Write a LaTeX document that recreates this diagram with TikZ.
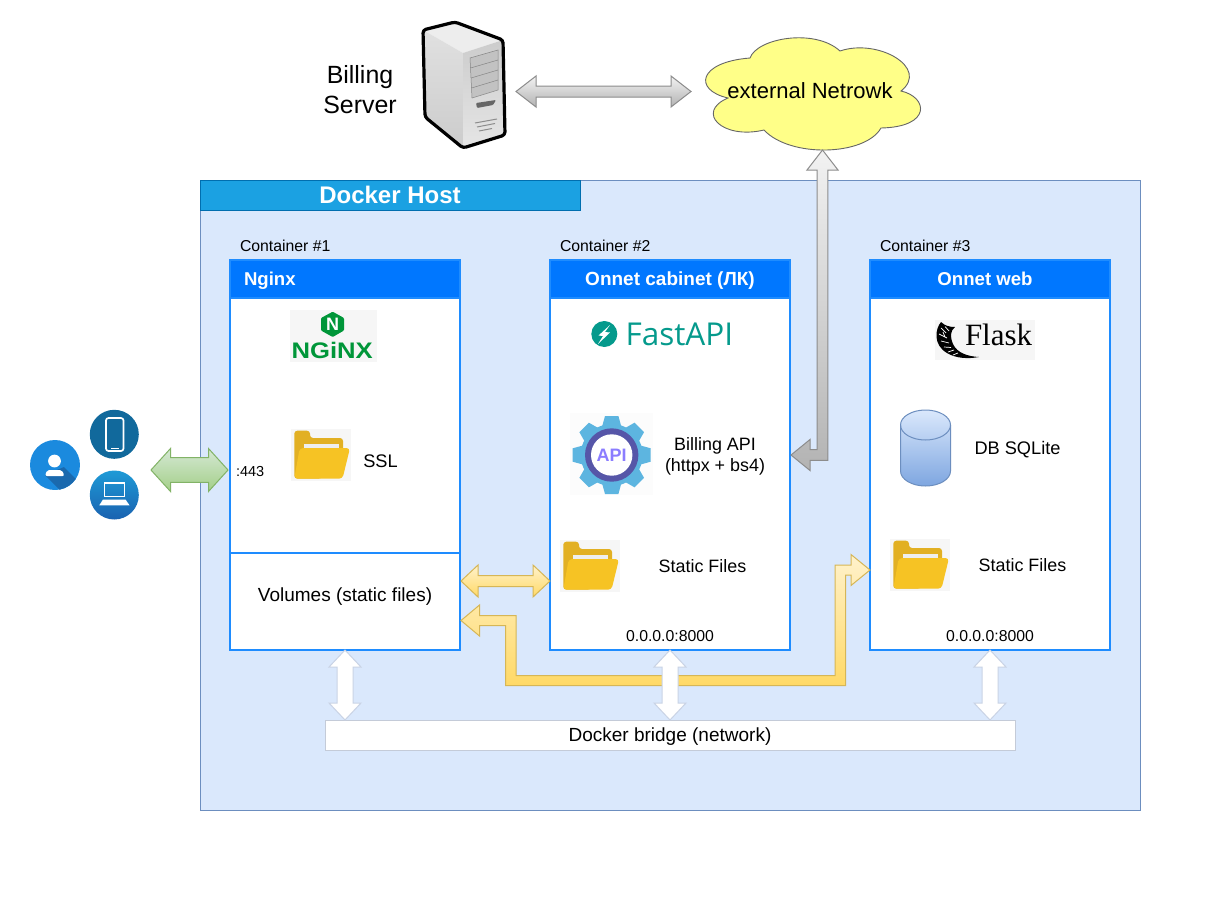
\documentclass[tikz,border=0pt]{standalone}
\usepackage{fontspec}
\usepackage{graphicx}
\setmainfont{Liberation Sans}
\newfontfamily\logofont{Open Sans}
\newfontfamily\flaskfont{Liberation Serif}
\usetikzlibrary{calc}
\definecolor{hostfill}{HTML}{DAE8FC}
\definecolor{hostline}{HTML}{6C8EBF}
\definecolor{hosthead}{HTML}{1BA1E2}
\definecolor{hostheadline}{HTML}{006EAF}
\definecolor{contline}{HTML}{1E8CFF}
\definecolor{conthead}{HTML}{0077FF}
\definecolor{bridgeline}{HTML}{C4CBD8}
\definecolor{whiteline}{HTML}{C9D3E5}
\definecolor{folderback}{HTML}{E2B023}
\definecolor{folderfront}{HTML}{F6C324}
\definecolor{folderpaper}{HTML}{EEEEEE}
\definecolor{logobg}{HTML}{F6F6F6}
\definecolor{nginxgreen}{HTML}{009639}
\definecolor{fastteal}{HTML}{059A8C}
\definecolor{gearblue}{HTML}{5DB5E0}
\definecolor{gearring}{HTML}{5656A8}
\definecolor{apitext}{HTML}{8B7DFF}
\definecolor{greentop}{HTML}{D5E8D4}
\definecolor{greenbot}{HTML}{A3CF88}
\definecolor{greenline}{HTML}{82B366}
\definecolor{yeltop}{HTML}{FFF2CC}
\definecolor{yelbot}{HTML}{FFD966}
\definecolor{yelline}{HTML}{D6B656}
\definecolor{cloudfill}{HTML}{FFFF88}
\definecolor{graytop}{HTML}{F2F2F2}
\definecolor{graybot}{HTML}{B3B3B3}
\definecolor{grayline}{HTML}{8C8C8C}
\definecolor{dbbot}{HTML}{7EA6E0}
\definecolor{userblue}{HTML}{1B8ADE}
\definecolor{usershadow}{HTML}{1A69AE}
\definecolor{phoneblue}{HTML}{11699C}
\definecolor{laptoptop}{HTML}{1E9AD6}
\definecolor{laptopbot}{HTML}{1A62B0}
\tikzset{
  x=1pt,y=-1pt,
  every node/.style={outer sep=0pt,inner sep=0pt},
  t14/.style={font=\fontsize{14.5}{17}\selectfont,yshift=-5.2pt},
  t15/.style={font=\fontsize{15.8}{18.5}\selectfont,yshift=-5.6pt},
  t18/.style={font=\fontsize{#1}{21.7}\selectfont,yshift=-6.5pt},
  t18/.default=18.2,
  t18m/.style={font=\fontsize{17.9}{21.7}\selectfont,align=center},
  headtext/.style={font=\bfseries\fontsize{#1}{21.7}\selectfont,text=white,yshift=-6.5pt},
  container/.style={draw=contline,line width=2pt,fill=white,anchor=north west,minimum width=#1,minimum height=390},
  conthd/.style={draw=contline,line width=2pt,fill=conthead,anchor=north west,minimum width=#1,minimum height=38},
  grayblock/.style={draw=grayline,line width=1pt,line join=miter,top color=graytop,bottom color=graybot},
  greenblock/.style={draw=greenline,line width=1pt,top color=greentop,bottom color=greenbot},
  yellowblock/.style={draw=yelline,line width=1pt,top color=yeltop,bottom color=yelbot},
  whiteblock/.style={draw=whiteline,line width=1pt,fill=white}
}
\newcommand{\dblH}[6]{\path[#1] let \p1=(#2),\p2=(#3) in (\x1,\y1) -- (\x1+#6pt,\y1+#5pt) -- (\x1+#6pt,\y1+#4pt) -- (\x2-#6pt,\y1+#4pt) -- (\x2-#6pt,\y1+#5pt) -- (\x2,\y1) -- (\x2-#6pt,\y1-#5pt) -- (\x2-#6pt,\y1-#4pt) -- (\x1+#6pt,\y1-#4pt) -- (\x1+#6pt,\y1-#5pt) -- cycle;}
\newcommand{\dblV}[6]{\path[#1] let \p1=(#2),\p2=(#3) in (\x1,\y1) -- (\x1+#5pt,\y1-#6pt) -- (\x1+#4pt,\y1-#6pt) -- (\x1+#4pt,\y2+#6pt) -- (\x1+#5pt,\y2+#6pt) -- (\x1,\y2) -- (\x1-#5pt,\y2+#6pt) -- (\x1-#4pt,\y2+#6pt) -- (\x1-#4pt,\y1-#6pt) -- (\x1-#5pt,\y1-#6pt) -- cycle;}
\newcommand{\folderimg}[2]{%
  \begin{scope}[shift={(#1,#2)}]
    \fill[logobg] (0,0) rectangle (60,51.5);
    \fill[folderback,rounded corners=3] (3.3,49.7) -- (3.3,1.7) -- (19,1.7) -- (19,9) -- (52,9) -- (52,30) -- (30,49.7) -- cycle;
    \fill[folderpaper] (13,14.7) rectangle (48,22);
    \fill[folderfront,rounded corners=3.5] (8.7,19) -- (59,19) -- (51.5,49.7) -- (3.3,49.7) -- cycle;
  \end{scope}}
\begin{document}
\begin{tikzpicture}
\useasboundingbox (0,0) rectangle (1220,905);
\fill[white] (0,0) rectangle (1220,905);

% ---------- Docker host
\node[draw=hostline,fill=hostfill,line width=1pt,anchor=north west,minimum width=940,minimum height=630] (host) at (200,180) {};
\node[draw=hostheadline,fill=hosthead,line width=1pt,anchor=north west,minimum width=380,minimum height=30] (hosthead) at (200,180) {};
\node[font=\bfseries\fontsize{24}{28}\selectfont,text=white,anchor=base] (hostt) at (390,203.5) {Docker Host};

% ---------- containers
\node[t15,anchor=base west] (lab1) at (240,246) {Container \#1};
\node[t15,anchor=base west] (lab2) at (560,246) {Container \#2};
\node[t15,anchor=base west] (lab3) at (880,246) {Container \#3};

\node[container=230] (c1) at (230,260) {};
\node[container=240] (c2) at (550,260) {};
\node[container=240] (c3) at (870,260) {};
\node[conthd=230] (h1) at (230,260) {};
\node[conthd=240] (h2) at (550,260) {};
\node[conthd=240] (h3) at (870,260) {};
\node[headtext=18.6,anchor=base west] (h1t) at (244,279) {Nginx};
\node[headtext=19,anchor=base] (h2t) at (670,279) {Onnet cabinet (ЛК)};
\node[headtext=18.6,anchor=base] (h3t) at (985,279) {Onnet web};
\node[draw=contline,line width=2pt,fill=white,anchor=north west,minimum width=230,minimum height=97] (vols) at (230,553) {};
\node[t18=19,anchor=base] (volst) at (345,595) {Volumes (static files)};

% ---------- nginx logo
\fill[logobg] (290,310) rectangle (377,361.7);
\fill[nginxgreen,rounded corners=1] (332.7,311.7) -- (344,318) -- (344,330.5) -- (332.7,337) -- (321,330.5) -- (321,318) -- cycle;
\node[font=\bfseries\fontsize{18}{20}\selectfont,text=white] (nginxn) at (332.7,324.3) {N};
\node[font=\bfseries\fontsize{22.5}{24}\selectfont,text=nginxgreen] (nginxt) at (332.2,350) {\scalebox{1.14}[1]{NGiNX}};

% ---------- fastapi logo
\fill[fastteal] (604.3,334) circle (13);
\fill[white] (610,325) -- (598.5,335.5) -- (603,336) -- (598,344) -- (610,332.5) -- (605,332) -- cycle;
\node[font=\logofont\fontsize{31.5}{34}\selectfont,text=fastteal,anchor=base west] (fastt) at (625.5,345) {FastAPI};

% ---------- flask logo
\fill[logobg] (935.3,320) rectangle (1034.7,360);
\fill[black] (941,322) .. controls (935,329) and (933,345) .. (947,353) .. controls (956,358.5) and (968,359) .. (979,357)
   .. controls (968,356.5) and (957,353) .. (953,344) .. controls (950,337) and (950,331) .. (955,327) .. controls (950,327) and (945,326) .. (941,322) -- cycle;
\draw[white,line width=.7pt] (941,328) -- (946,333) (939,334) -- (947,338) (941,341) -- (949,343) (944,347) -- (951,347.5) (948,352) -- (954,350) (945,326.5) -- (949,331) (953,355) -- (958,353) (943,332) -- (945,337);
\node[font=\flaskfont\fontsize{31}{34}\selectfont,text=black,anchor=base west] (flaskt) at (965,345) {Flask};

% ---------- api gear
\fill[white!99!black] (570,413) rectangle (653,495);
\fill[gearblue] (611.7,455) circle (31);
\foreach \a in {0,45,...,315}{
  \fill[gearblue,rotate around={\a:(611.7,455)}] (601.7,428) -- (605,416) -- (618.4,416) -- (621.7,428) -- cycle;
}
\fill[gearring] (611.7,455) circle (26.7);
\fill[white] (611.7,455) circle (20.7);
\node[font=\bfseries\fontsize{18}{20}\selectfont,text=apitext] (apit) at (611.7,455) {API};

% ---------- db
\path[draw=hostline,line width=1pt,top color=hostfill,bottom color=dbbot]
  (900.5,425) -- (900.5,471) arc[start angle=180,end angle=360,x radius=25,y radius=-15] -- (950.5,425)
  arc[start angle=0,end angle=180,x radius=25,y radius=-15] -- cycle;
\draw[hostline,line width=1pt] (900.5,425) arc[start angle=180,end angle=360,x radius=25,y radius=-15];

% ---------- folders
\folderimg{291}{429}
\folderimg{560}{540}
\folderimg{890}{539}

% ---------- inner texts
\node[t14,anchor=base west] (p443) at (236,471) {:443};
\node[t18,anchor=base] (ssl) at (380.5,460.5) {SSL};
\node[t18m] (bapi) at (715,456.5) {Billing API\\(httpx + bs4)};
\node[t18=17.9,anchor=base] (sf2) at (702.5,566) {Static Files};
\node[t18,anchor=base] (db) at (1017.5,448) {DB SQLite};
\node[t18=17.9,anchor=base] (sf3) at (1022.5,565) {Static Files};
\node[t15,anchor=base] (ip2) at (670,635.5) {0.0.0.0:8000};
\node[t15,anchor=base] (ip3) at (990,635.5) {0.0.0.0:8000};

% ---------- bridge
\node[draw=bridgeline,fill=white,line width=1pt,anchor=north west,minimum width=690,minimum height=30] (bridge) at (325,720) {};
\node[t18=19,anchor=base] (bridget) at (670,735) {Docker bridge (network)};

% ---------- server
\node[font=\fontsize{24.9}{30}\selectfont,align=center] (billing) at (360,90) {Billing\\Server};
\fill[black!7] (423,30) -- (455,22) -- (503,40) -- (463,53) -- cycle;
\path[top color=black!12,bottom color=black!20] (423,30) -- (463,53) -- (463,148) -- (425,117) -- cycle;
\path[top color=black!20,bottom color=black!10] (463,53) -- (503,40) -- (505,135) -- (463,148) -- cycle;
\fill[black!24] (470,58) -- (498,50) -- (498,90) -- (472,98) -- cycle;
\draw[black!48,line width=.5pt] (470,58) -- (498,50) -- (498,90) -- (472,98) -- cycle
  (470.5,68) -- (498,60) (471,78) -- (498,70) (471.5,88) -- (498,80);
\fill[black!60,rounded corners=1] (476,103) -- (496,100) -- (493,105) -- (477,108) -- cycle;
\draw[black!45,line width=1pt] (475,123) -- (497,119) (477,127) -- (495,123.5) (479,131) -- (492,128.5);
\draw[black,line width=3.2pt,rounded corners=3,line join=round] (423,30) -- (455,22) -- (503,40) -- (505,135) -- (463,148) -- (425,117) -- cycle;
\coordinate (srvE) at (516,91.5);

% ---------- cloud
\path[draw=black!60,line width=.9pt,fill=cloudfill]
  (750,58) .. controls (757,38) and (815,28) .. (840,51)
  .. controls (878,38) and (930,68) .. (901,91)
  .. controls (928,97) and (932,127) .. (881,128)
  .. controls (865,156) and (790,158) .. (764,130)
  .. controls (722,140) and (695,112) .. (728,98)
  .. controls (693,90) and (698,62) .. (750,58) -- cycle;
\node[font=\fontsize{22}{26}\selectfont,anchor=base] (net) at (810,98) {external Netrowk};
\coordinate (netW) at (691,91.5);
\coordinate (netS) at (822.5,150);

% ---------- users
\begin{scope}
  \clip (55,465) circle (25);
  \fill[userblue] (30,440) rectangle (80,490);
  \fill[usershadow] (45,475) -- (64,467) -- (85,488) -- (70,500) -- cycle;
\end{scope}
\node[circle,minimum size=50] (user) at (55,465) {};
\fill[white] (54.5,461) circle (6.4);
\fill[white,rounded corners=2] (45,476) -- (47,470) -- (62,470) -- (64.5,476) -- cycle;
\node[circle,fill=phoneblue,minimum size=49] (phone) at (114.3,434.3) {};
\draw[white,line width=1.7pt,rounded corners=2.5] (106,418) rectangle (123.5,451);
\fill[white] (111,447.5) rectangle (118.5,449.2);
\node[circle,top color=laptoptop,bottom color=laptopbot,minimum size=49] (laptop) at (114.3,495) {};
\draw[white,line width=1.6pt] (104.5,483) rectangle (124.5,496.5);
\fill[white] (103,499.5) -- (125.5,499.5) -- (129.5,505.3) -- (99.3,505.3) -- cycle;
\coordinate (users) at (151,470);
\coordinate (gE) at ([xshift=-2pt,yshift=-15pt]c1.west);

% ---------- block connectors
\dblH{grayblock}{srvE}{netW}{5.5}{15.5}{20}
\dblH{greenblock}{users}{gE}{12.3}{21.5}{19.5}
\coordinate (yA) at ([xshift=1pt,yshift=20.5pt]vols.east);
\coordinate (yB) at ([yshift=-126pt]c2.west);
\dblH{yellowblock}{yA}{yB}{5.5}{16}{17}
\coordinate (yC) at ([xshift=1pt,yshift=-19pt]vols.east);
\coordinate (yD) at ([yshift=-115pt]c3.west);
\path[yellowblock] let \p1=(yC),\p2=(yD) in
  (\x1,\y1) -- (\x1+18.5pt,\y1+15.5pt) -- (\x1+18.5pt,\y1+5pt) -- (\x1+55pt,\y1+5pt) -- (\x1+55pt,\y1-55pt)
  -- (\x2-35pt,\y1-55pt) -- (\x2-35pt,\y2+5pt) -- (\x2-19pt,\y2+5pt) -- (\x2-19pt,\y2+15.5pt) -- (\x2,\y2)
  -- (\x2-19pt,\y2-15.5pt) -- (\x2-19pt,\y2-5pt) -- (\x2-24.5pt,\y2-5pt) -- (\x2-24.5pt,\y1-65pt) -- (\x1+44.5pt,\y1-65pt)
  -- (\x1+44.5pt,\y1-5pt) -- (\x1+18.5pt,\y1-5pt) -- (\x1+18.5pt,\y1-15.5pt) -- cycle;
\path[grayblock] let \p1=(netS),\p2=(c2.east) in
  (\x1,\y1) -- (\x1+15.5pt,\y1-20pt) -- (\x1+5.3pt,\y1-20pt) -- (\x1+5.3pt,\y2-5.3pt) -- (\x2+20pt,\y2-5.3pt)
  -- (\x2+20pt,\y2-15.5pt) -- (\x2+1pt,\y2) -- (\x2+20pt,\y2+15.5pt) -- (\x2+20pt,\y2+5.3pt) -- (\x1-5.3pt,\y2+5.3pt)
  -- (\x1-5.3pt,\y1-20pt) -- (\x1-15.5pt,\y1-20pt) -- cycle;
\dblV{whiteblock}{c1.south}{c1.south |- bridge.north}{8}{16}{17}
\dblV{whiteblock}{c2.south}{c2.south |- bridge.north}{8}{16}{17}
\dblV{whiteblock}{c3.south}{c3.south |- bridge.north}{8}{16}{17}
\end{tikzpicture}
\end{document}
